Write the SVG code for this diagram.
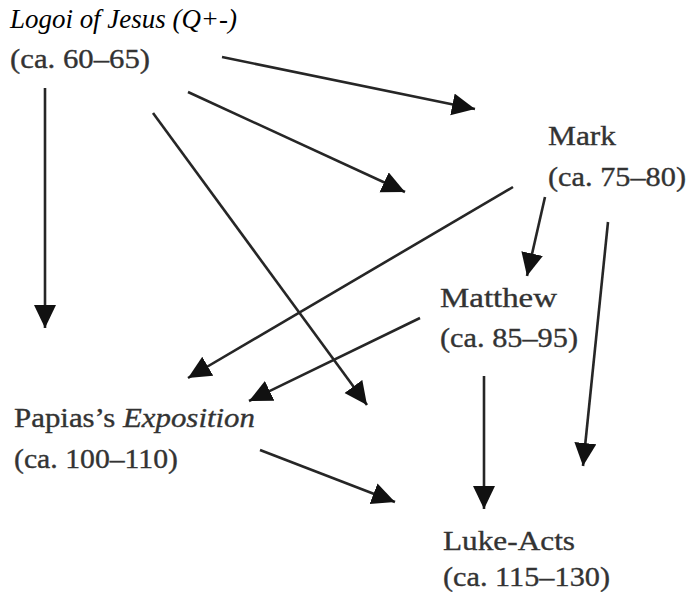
<svg xmlns="http://www.w3.org/2000/svg" width="688" height="594" viewBox="0 0 688 594">
<style>
.t{font-family:"Liberation Serif","Times New Roman",serif;font-size:28px;fill:#333;stroke:#333;stroke-width:0.35}
.q{font-family:"Liberation Serif","Times New Roman",serif;font-size:28px;font-style:italic;fill:#000}
.e{font-style:italic}
.c line{stroke:#262626;stroke-width:2.6;marker-end:url(#ah)}
</style>
<defs>
<marker id="ah" markerUnits="userSpaceOnUse" markerWidth="26" markerHeight="24" refX="23" refY="11" orient="auto">
<path d="M0,0 L23,11 L0,22 Z" fill="#111"/>
</marker>
</defs>
<rect width="688" height="594" fill="#fff"/>
<g id="connectors" class="c">
<line x1="222" y1="57" x2="475" y2="109"/>
<line x1="188" y1="92" x2="405" y2="192"/>
<line x1="153" y1="113" x2="367" y2="405"/>
<line x1="45" y1="88" x2="45" y2="328"/>
<line x1="513" y1="187" x2="188" y2="378"/>
<line x1="545" y1="197" x2="527" y2="276"/>
<line x1="608" y1="222" x2="583" y2="466"/>
<line x1="420" y1="318" x2="249" y2="401"/>
<line x1="484" y1="376" x2="484" y2="509"/>
<line x1="260" y1="450" x2="395" y2="502"/>
</g>
<g id="logoi">
<text class="q" x="10" y="28" textLength="227" lengthAdjust="spacingAndGlyphs">Logoi of Jesus (Q+-)</text>
<text class="t" x="10" y="68" textLength="140" lengthAdjust="spacingAndGlyphs">(ca. 60–65)</text>
</g>
<g id="mark">
<text class="t" x="548" y="145" textLength="68" lengthAdjust="spacingAndGlyphs">Mark</text>
<text class="t" x="548" y="186" textLength="138" lengthAdjust="spacingAndGlyphs">(ca. 75–80)</text>
</g>
<g id="matthew">
<text class="t" x="440" y="307" textLength="117" lengthAdjust="spacingAndGlyphs">Matthew</text>
<text class="t" x="440" y="347" textLength="138" lengthAdjust="spacingAndGlyphs">(ca. 85–95)</text>
</g>
<g id="papias">
<text class="t" x="14" y="427" textLength="241" lengthAdjust="spacingAndGlyphs">Papias’s <tspan class="e">Exposition</tspan></text>
<text class="t" x="14" y="468" textLength="164" lengthAdjust="spacingAndGlyphs">(ca. 100–110)</text>
</g>
<g id="lukeacts">
<text class="t" x="443" y="550" textLength="132" lengthAdjust="spacingAndGlyphs">Luke-Acts</text>
<text class="t" x="443" y="586" textLength="167" lengthAdjust="spacingAndGlyphs">(ca. 115–130)</text>
</g>
</svg>
